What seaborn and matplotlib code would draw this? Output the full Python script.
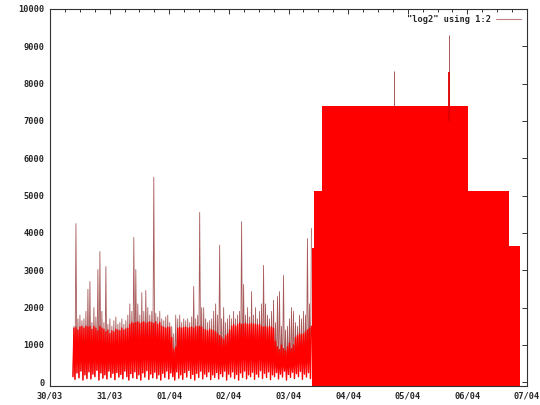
import numpy as np
import matplotlib
matplotlib.use("Agg")
import matplotlib.pyplot as plt
from matplotlib.lines import Line2D
import seaborn as sns

# ---------------- data ----------------
day_labels = ["30/03", "31/03", "01/04", "02/04", "03/04", "04/04", "05/04", "06/04", "07/04"]
y_ticks = [0, 1000, 2000, 3000, 4000, 5000, 6000, 7000, 8000, 9000, 10000]
legend_label = '"log2" using 1:2'

# first part: dense noisy trace, summarised per small time bin (days since 30/03 00:00)
bin_first_day, bin_last_day, n_bins = 0.385, 4.368, 120
band_hi = [1450, 1470, 1400, 1480, 1500, 1450, 1500, 1480, 1500, 1420,
           1500, 1450, 1380, 1500, 1450, 1420, 1350, 1400, 1300, 1380,
           1350, 1420, 1400, 1380, 1450, 1400, 1430, 1450, 1550, 1600,
           1580, 1600, 1620, 1580, 1600, 1620, 1580, 1600, 1620, 1600,
           1580, 1620, 1550, 1600, 1500, 1470, 1450, 1480, 1470, 1200,
           880, 950, 1450, 1470, 1450, 1470, 1480, 1450, 1470, 1480,
           1450, 1500, 1480, 1500, 1480, 1420, 1400, 1380, 1420, 1400,
           1380, 1350, 1300, 1250, 1200, 1150, 1250, 1300, 1400, 1500,
           1550, 1500, 1550, 1580, 1550, 1560, 1580, 1550, 1560, 1580,
           1550, 1560, 1530, 1550, 1500, 1480, 1500, 1470, 1500, 1480,
           1450, 1100, 950, 880, 1000, 900, 850, 950, 1050, 900,
           1000, 1200, 1250, 1300, 1280, 1300, 1350, 1400, 1450, 1500]
band_lo = [150, 80, 250, 120, 300, 60, 200, 100, 280, 90,
           220, 150, 320, 60, 250, 110, 200, 90, 300, 130,
           240, 70, 260, 140, 210, 90, 300, 150, 60, 230,
           120, 280, 100, 200, 60, 250, 140, 310, 80, 220,
           120, 270, 100, 200, 60, 240, 130, 300, 90, 250,
           150, 60, 280, 110, 200, 80, 260, 140, 320, 100,
           210, 60, 240, 130, 300, 90, 220, 150, 280, 70,
           200, 130, 260, 90, 230, 150, 300, 60, 220, 140,
           280, 100, 210, 60, 250, 130, 300, 90, 200, 150,
           270, 80, 220, 140, 310, 100, 240, 130, 280, 70,
           200, 150, 260, 90, 220, 140, 300, 60, 210, 130,
           270, 100, 230, 150, 290, 80, 220, 140, 260, 100]
peak = [1500, 4250, 1700, 1800, 1650, 1700, 1900, 2490, 2700, 1600,
        2000, 1750, 3020, 3500, 1900, 1600, 3100, 1550, 1700, 1500,
        1650, 1750, 1550, 1600, 1700, 1550, 1650, 1800, 2100, 1900,
        3880, 3020, 2100, 1800, 2400, 1900, 2460, 2000, 1800, 1900,
        5490, 1850, 1750, 1900, 1700, 1650, 1750, 1800, 1600, 1500,
        1300, 1800, 1700, 1800, 1600, 1700, 1650, 1700, 1600, 1750,
        2570, 1700, 1800, 4550, 2000, 2000, 1700, 1600, 1650, 1700,
        1900, 2100, 1800, 3670, 1700, 2000, 1600, 1700, 1800, 1700,
        1900, 1700, 1800, 1900, 4300, 2620, 1800, 2000, 1750, 2430,
        1800, 2000, 1700, 1900, 2100, 3130, 2100, 1800, 1700, 1900,
        2200, 1600, 2300, 2430, 1500, 2860, 1400, 1500, 1700, 2000,
        1900, 1600, 1500, 1800, 1700, 1900, 1800, 3850, 2100, 4120]

# second part: the trace is so dense it fills solid steps (step edges in days, step tops)
block_edges = [4.402, 4.435, 4.569, 7.013, 7.699, 7.883]
block_tops = [3600, 5130, 7390, 5130, 3640]
block_floor = -100
# isolated spikes above the solid part
spike_days = [5.774, 6.695]
spike_tops = [8350, 9310]
spike_red_tops = [7390, 8300]

# ---------------- figure ----------------
sns.set_style("white")
plt.rcParams["font.family"] = ["DejaVu Sans Mono", "DejaVu Sans"]
plt.rcParams["font.weight"] = "bold"

RED = "#ff0000"
SPIKE = "#a85a5a"

fig = plt.figure(figsize=(5.4, 4.05), dpi=100)
ax = fig.add_axes([50 / 540, 1 - 386 / 405, (527 - 50) / 540, (386 - 9) / 405])

t = np.linspace(bin_first_day, bin_last_day, n_bins)
half = (t[1] - t[0]) / 2
zz_x = np.column_stack([t, t + half]).ravel()
zz_peak = np.column_stack([band_lo, peak]).ravel()
zz_band = np.column_stack([band_lo, band_hi]).ravel()

# thin trace reaching the peaks
sns.lineplot(x=zz_x, y=zz_peak, sort=False, estimator=None, color=SPIKE,
             linewidth=0.6, ax=ax, legend=False)
# spikes of the dense part
ax.vlines(spike_days, block_floor, spike_tops, color=SPIKE, linewidth=0.7, zorder=1.5)
# dense band
sns.lineplot(x=zz_x, y=zz_band, sort=False, estimator=None, color=RED,
             linewidth=1.0, ax=ax, legend=False)
# solid filled steps
ax.fill_between(block_edges, block_floor, block_tops + [block_tops[-1]],
                step="post", color=RED, linewidth=0, zorder=2.2)
ax.vlines(spike_days[1:], 7000, spike_red_tops[1:], color="#dd0000",
          linewidth=1.3, zorder=2.3)

ax.set_xlim(0, 8)
ax.set_ylim(-100, 10000)
ax.set_xticks(range(len(day_labels)))
ax.set_xticklabels(day_labels)
ax.set_xticks(np.arange(0, 8.01, 0.25), minor=True)
ax.set_yticks(y_ticks)
ax.set_yticklabels([str(v) for v in y_ticks])
ax.set_xlabel("")
ax.set_ylabel("")

ax.tick_params(axis="both", which="both", direction="in", top=True, right=True,
               labelsize=6.2, color="#333333", width=0.7)
ax.tick_params(axis="both", which="major", length=3.5, pad=4)
ax.tick_params(axis="x", which="minor", length=1.8)
for lab in ax.get_xticklabels() + ax.get_yticklabels():
    lab.set_fontweight("bold")
for s in ax.spines.values():
    s.set_visible(True)
    s.set_color("#333333")
    s.set_linewidth(0.8)

handle = Line2D([0], [0], color="#c08080", linewidth=0.8)
leg = ax.legend([handle], [legend_label], loc="upper right", frameon=False,
                markerfirst=False, handlelength=2.8, handletextpad=0.6,
                borderaxespad=0.35, prop={"family": "DejaVu Sans Mono", "weight": "bold", "size": 6.2})

fig.savefig("out.png", dpi=100, facecolor="white")
